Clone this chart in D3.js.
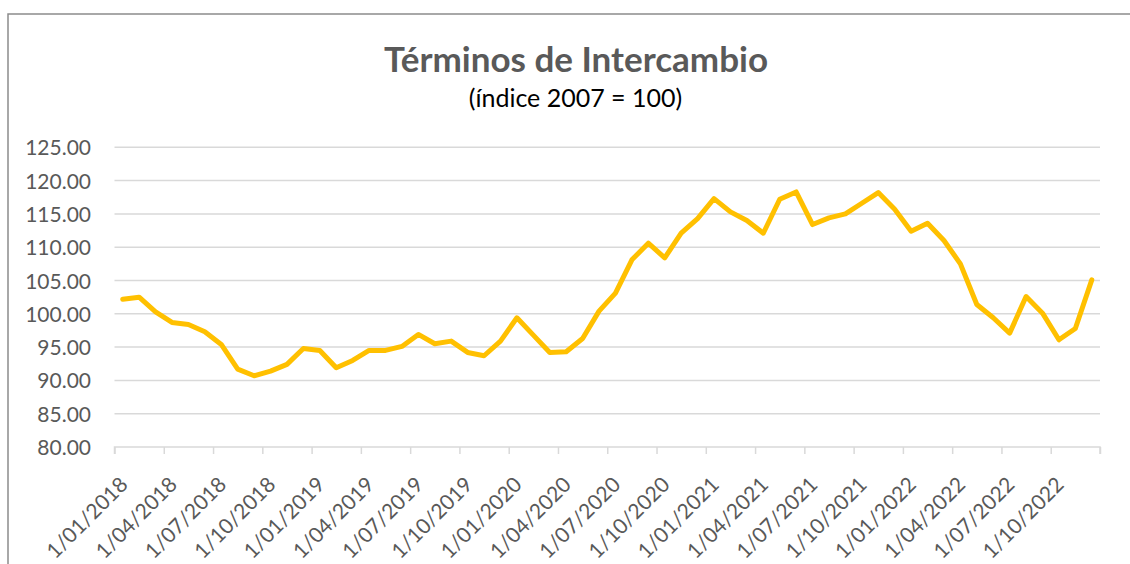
<!DOCTYPE html>
<html>
<head>
<meta charset="utf-8">
<script src="https://cdn.jsdelivr.net/npm/d3@7"></script>
<style>
  html, body { margin: 0; padding: 0; background: #fff; }
  svg { display: block; }
</style>
</head>
<body>
<svg id="chart" width="1130" height="564"></svg>
<script>
// ---- data ----
const title = "Términos de Intercambio";
const subtitle = "(índice 2007 = 100)";

const months = [
  "2018-01","2018-02","2018-03","2018-04","2018-05","2018-06","2018-07","2018-08","2018-09","2018-10","2018-11","2018-12",
  "2019-01","2019-02","2019-03","2019-04","2019-05","2019-06","2019-07","2019-08","2019-09","2019-10","2019-11","2019-12",
  "2020-01","2020-02","2020-03","2020-04","2020-05","2020-06","2020-07","2020-08","2020-09","2020-10","2020-11","2020-12",
  "2021-01","2021-02","2021-03","2021-04","2021-05","2021-06","2021-07","2021-08","2021-09","2021-10","2021-11","2021-12",
  "2022-01","2022-02","2022-03","2022-04","2022-05","2022-06","2022-07","2022-08","2022-09","2022-10","2022-11","2022-12"
];

const values = [
  102.2, 102.5, 100.3, 98.7, 98.4, 97.3, 95.4, 91.7, 90.7, 91.4, 92.4, 94.8,
  94.5, 91.9, 93.0, 94.5, 94.5, 95.1, 96.9, 95.5, 95.9, 94.2, 93.7, 95.9,
  99.4, 96.8, 94.2, 94.3, 96.3, 100.4, 103.1, 108.1, 110.6, 108.4, 112.1, 114.3,
  117.3, 115.3, 114.0, 112.1, 117.2, 118.3, 113.4, 114.4, 115.0, 116.6, 118.2, 115.7,
  112.4, 113.6, 111.0, 107.5, 101.4, 99.4, 97.1, 102.6, 100.1, 96.1, 97.8, 105.1
];

const xTickLabels = [
  "1/01/2018","1/04/2018","1/07/2018","1/10/2018",
  "1/01/2019","1/04/2019","1/07/2019","1/10/2019",
  "1/01/2020","1/04/2020","1/07/2020","1/10/2020",
  "1/01/2021","1/04/2021","1/07/2021","1/10/2021",
  "1/01/2022","1/04/2022","1/07/2022","1/10/2022"
];

const yTicks = [80, 85, 90, 95, 100, 105, 110, 115, 120, 125];

// ---- layout ----
const svg = d3.select("#chart");
const plot = { left: 114.5, right: 1100, top: 147.3, bottom: 447 };
const FONT = "Lato, 'Open Sans', 'Liberation Sans', sans-serif";
const textColor = "#595959";
const gridColor = "#d9d9d9";

// outer frame
svg.append("path")
  .attr("d", "M8,564 L8,14 L1130,14")
  .attr("fill", "none")
  .attr("stroke", "#8c8c8c")
  .attr("stroke-width", 1.5);

// scales
const x = d3.scaleLinear().domain([0, months.length]).range([plot.left, plot.right]);
const y = d3.scaleLinear().domain([80, 125]).range([plot.bottom, plot.top]);

// gridlines
svg.append("g")
  .selectAll("line")
  .data(yTicks.filter(d => d !== 80))
  .join("line")
  .attr("x1", plot.left).attr("x2", plot.right)
  .attr("y1", d => y(d)).attr("y2", d => y(d))
  .attr("stroke", gridColor).attr("stroke-width", 1.5);

// y axis labels
const yAxis = d3.axisLeft(y).tickValues(yTicks).tickFormat(d3.format(".2f")).tickSize(0).tickPadding(0);
const gy = svg.append("g").attr("transform", `translate(91,0)`).call(yAxis);
gy.select(".domain").remove();
gy.selectAll("text")
  .attr("font-family", FONT).attr("font-size", 21).attr("fill", textColor)
  .attr("dy", "0.36em");

// x axis
const xTickVals = d3.range(0, months.length + 1, 3);
const xAxis = d3.axisBottom(x)
  .tickValues(xTickVals)
  .tickSize(7)
  .tickFormat((d, i) => xTickLabels[i] || "");
const gx = svg.append("g").attr("transform", `translate(0,${plot.bottom})`).call(xAxis);
gx.select(".domain").attr("stroke", gridColor).attr("stroke-width", 1.5)
  .attr("d", `M${plot.left},7V0H${plot.right}V7`);
gx.selectAll(".tick line").attr("stroke", gridColor).attr("stroke-width", 1.5);
gx.selectAll(".tick text")
  .attr("font-family", FONT).attr("font-size", 21).attr("fill", textColor)
  .attr("text-anchor", "end")
  .attr("x", 0).attr("y", 0).attr("dy", 0)
  .attr("transform", "translate(14,39) rotate(-45)");

// line
const line = d3.line()
  .x((d, i) => x(i + 0.5))
  .y(d => y(d));
svg.append("path")
  .datum(values)
  .attr("d", line)
  .attr("fill", "none")
  .attr("stroke", "#FFC000")
  .attr("stroke-width", 5)
  .attr("stroke-linejoin", "round")
  .attr("stroke-linecap", "round");

// titles
svg.append("text")
  .attr("x", 576).attr("y", 71.5)
  .attr("text-anchor", "middle")
  .attr("font-family", FONT).attr("font-weight", "bold").attr("font-size", 35)
  .attr("fill", textColor)
  .text(title);
svg.append("text")
  .attr("x", 575.5).attr("y", 106.5)
  .attr("text-anchor", "middle")
  .attr("font-family", FONT).attr("font-size", 25)
  .attr("fill", "#000")
  .text(subtitle);
</script>
</body>
</html>
